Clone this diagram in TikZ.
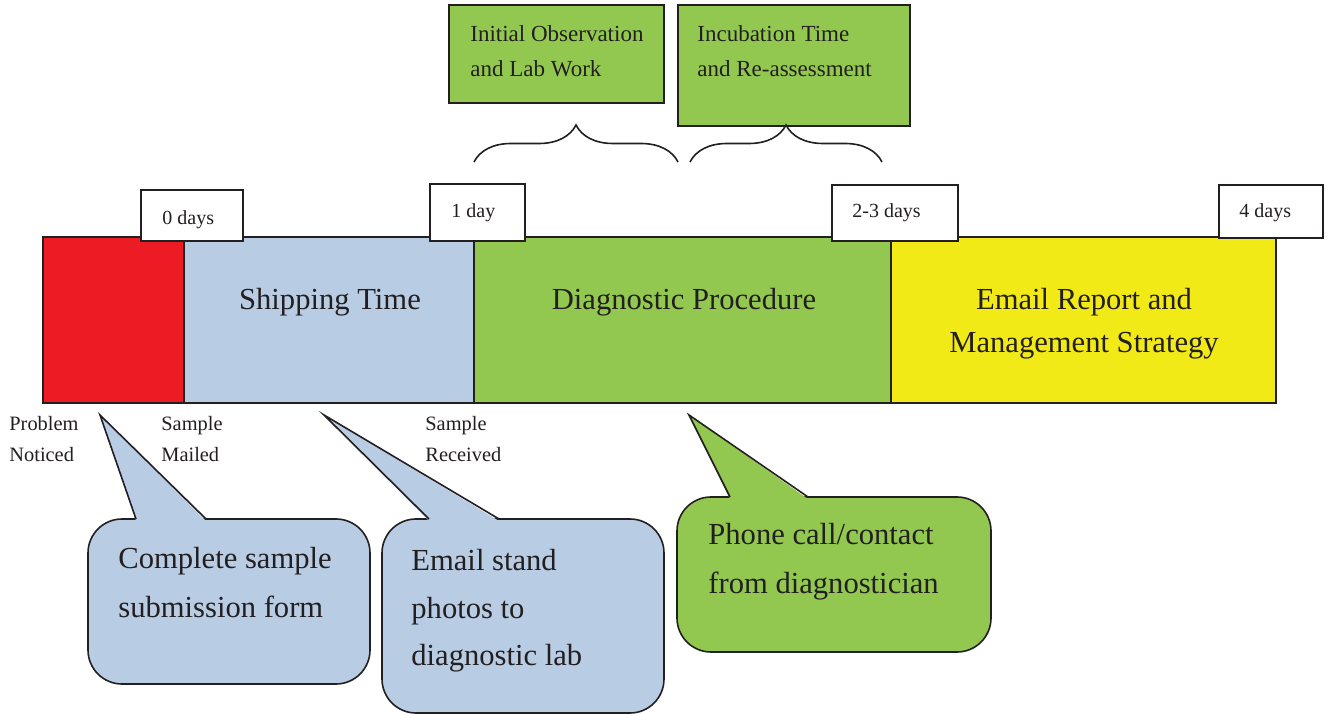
\documentclass[tikz,border=0pt]{standalone}
\usepackage{fontspec}
\setmainfont{Liberation Serif}
\usetikzlibrary{fit,decorations.pathreplacing}
\definecolor{ink}{HTML}{231F20}
\definecolor{redC}{HTML}{ED1C24}
\definecolor{blueC}{HTML}{B8CCE4}
\definecolor{greenC}{HTML}{92C850}
\definecolor{yellowC}{HTML}{F2EA16}
\begin{document}
\begin{tikzpicture}[x=0.5pt,y=-0.5pt,
  seg/.style={draw=ink, line width=1pt, inner sep=0pt, outer sep=0pt},
  daybox/.style={draw=ink, fill=white, line width=1pt, inner sep=0pt, outer sep=0pt},
  topbox/.style={draw=ink, fill=greenC, line width=1pt, inner sep=0pt, outer sep=0pt},
  cbody/.style={draw=ink, line width=0.8pt, inner sep=0pt, outer sep=0pt, rounded corners=17pt},
  cedge/.style={draw=ink, line width=0.8pt},
  big/.style={text=ink, font=\fontsize{15.3}{18}\selectfont, inner sep=0pt, anchor=base},
  bigl/.style={text=ink, font=\fontsize{15.3}{18}\selectfont, inner sep=0pt, anchor=base west},
  small/.style={text=ink, font=\fontsize{10.2}{12}\selectfont, inner sep=0pt, anchor=base west},
  mid/.style={text=ink, font=\fontsize{11.5}{14}\selectfont, inner sep=0pt, anchor=base west},
  daytxt/.style={text=ink, font=\fontsize{10}{12}\selectfont, inner sep=0pt, anchor=base west},
  bracestyle/.style={draw=ink, line width=0.8pt, decorate, decoration={brace, amplitude=18.5pt}},
]
\useasboundingbox (0,0) rectangle (1327,715);

% --- timeline bar ---
\node[seg, fill=redC,    fit={(43,237)(184,403)}]   (red) {};
\node[seg, fill=blueC,   fit={(184,237)(474,403)}]  (ship) {};
\node[seg, fill=greenC,  fit={(474,237)(891,403)}]  (diag) {};
\node[seg, fill=yellowC, fit={(891,237)(1276,403)}] (report) {};

\node[big] (shiptxt) at (330,310) {Shipping Time};
\node[big] (diagtxt) at (684,310) {Diagnostic Procedure};
\node[big] (reptxta) at (1084,310) {Email Report and};
\node[big] (reptxtb) at (1084,353) {Management Strategy};

% --- day markers ---
\node[daybox, fit={(141,190)(243,241)}]  (d0) {};
\node[daybox, fit={(430,184)(525,241)}]  (d1) {};
\node[daybox, fit={(832,185)(958,241)}]  (d23) {};
\node[daybox, fit={(1219,185)(1323,238)}] (d4) {};
\node[daytxt] (d0t)  at (162,225)  {0 days};
\node[daytxt] (d1t)  at (451,218)  {1 day};
\node[daytxt] (d23t) at (852,218)  {2-3 days};
\node[daytxt] (d4t)  at (1239,218) {4 days};

% --- diagnostic sub-steps ---
\node[topbox, fit={(449,5)(664,103)}] (obs) {};
\node[topbox, fit={(678,5)(910,126)}] (inc) {};
\node[mid] (obsa) at (470,42) {Initial Observation};
\node[mid] (obsb) at (470,77) {and Lab Work};
\node[mid] (inca) at (697,42) {Incubation Time};
\node[mid] (incb) at (697,77) {and Re-assessment};

\coordinate (b1s) at (474,162);
\coordinate (b1e) at (678,162);
\coordinate (b2s) at (690,162);
\coordinate (b2e) at (882,162);
\draw[bracestyle] (b1s) -- (b1e);
\draw[bracestyle] (b2s) -- (b2e);

% --- milestone labels ---
\node[small] (pa) at (9,431)   {Problem};
\node[small] (pb) at (9,462)   {Noticed};
\node[small] (ma) at (161,431) {Sample};
\node[small] (mb) at (161,462) {Mailed};
\node[small] (ra) at (425,431) {Sample};
\node[small] (rb) at (425,462) {Received};

% --- callouts ---
\node[cbody, fill=blueC, fit={(88,519)(370,684)}] (c1) {};
\coordinate (tip1) at (100,415);
\fill[blueC] (136,521) -- (tip1) -- (206,521) -- cycle;
\draw[cedge] (136,519) -- (tip1) -- (206,519);
\node[bigl] (c1a) at (118,568) {Complete sample};
\node[bigl] (c1b) at (118,617) {submission form};

\node[cbody, fill=blueC, fit={(382,519)(664,713)}] (c2) {};
\coordinate (tip2) at (324,415);
\fill[blueC] (429,521) -- (tip2) -- (499,521) -- cycle;
\draw[cedge] (429,519) -- (tip2) -- (499,519);
\node[bigl] (c2a) at (411,570) {Email stand};
\node[bigl] (c2b) at (411,618) {photos to};
\node[bigl] (c2c) at (411,665) {diagnostic lab};

\node[cbody, fill=greenC, fit={(677,497)(991,652)}] (c3) {};
\coordinate (tip3) at (689,415);
\fill[greenC] (730,499) -- (tip3) -- (808,499) -- cycle;
\draw[cedge] (730,497) -- (tip3) -- (808,497);
\node[bigl] (c3a) at (708,545) {Phone call/contact};
\node[bigl] (c3b) at (708,593) {from diagnostician};
\end{tikzpicture}
\end{document}
